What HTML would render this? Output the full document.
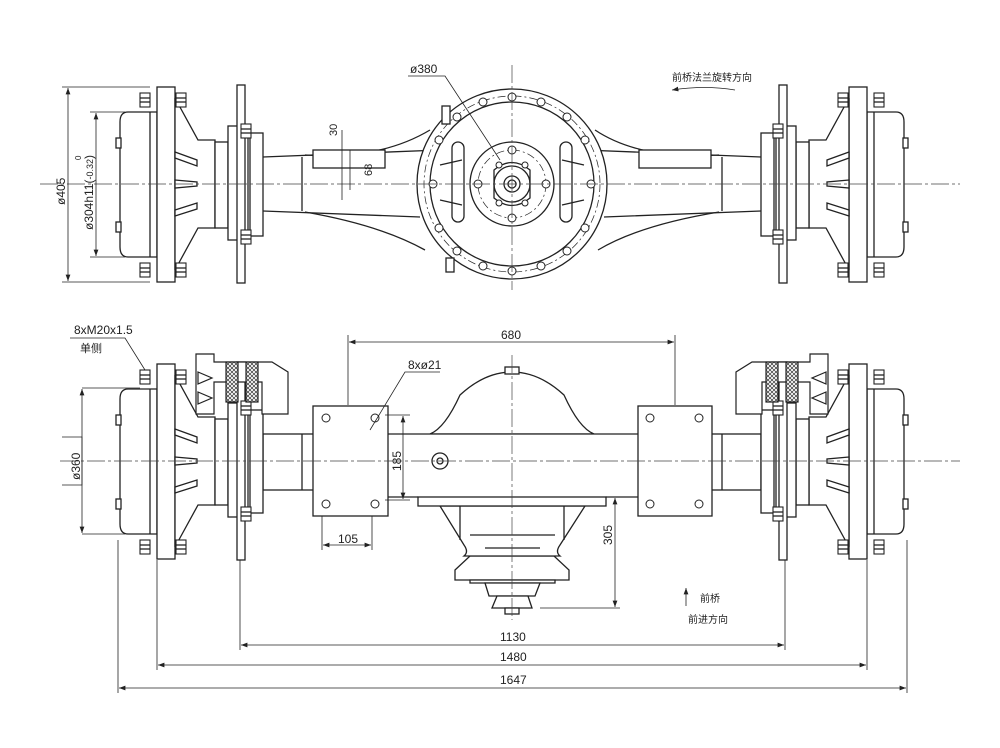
<!DOCTYPE html>
<html><head><meta charset="utf-8"><style>
html,body{margin:0;padding:0;background:#fff}
svg{display:block}
text{font-family:"Liberation Sans","Noto Sans CJK SC",sans-serif;fill:#222}
</style></head><body>
<svg width="1000" height="748" viewBox="0 0 1000 748" xmlns="http://www.w3.org/2000/svg">
<defs>
<pattern id="hatch" width="4" height="4" patternUnits="userSpaceOnUse"><rect width="4" height="4" fill="#fff"/><path d="M0 0L4 4M4 0L0 4" stroke="#333" stroke-width="0.7"/></pattern>
<marker id="ar" markerWidth="8" markerHeight="6" refX="8" refY="3" orient="auto-start-reverse"><path d="M0 0L8 3L0 6z" fill="#222"/></marker>
<g id="bolt"><rect x="-5" y="-7" width="10" height="14" fill="#fff" stroke="#222" stroke-width="1.1"/><line x1="-5" y1="-2" x2="5" y2="-2" stroke="#222"/><line x1="-5" y1="2" x2="5" y2="2" stroke="#222"/></g>
<g id="wheel" fill="#fff" stroke="#222" stroke-width="1.3">
 <path d="M157 112 L128 112 Q120 112 120 122 L120 247 Q120 257 128 257 L157 257 Z"/>
 <line x1="150" y1="112" x2="150" y2="257"/>
 <rect x="116" y="138" width="5" height="10"/><rect x="116" y="222" width="5" height="10"/>
 <rect x="157" y="87" width="18" height="195"/>
 <path d="M175 98 L198 140 L215 140 L215 228 L198 228 L175 270 Z"/>
 <path d="M175 152 L197 160 L197 166 L175 158 Z M175 180 L197 182 L197 186 L175 188 Z M175 210 L197 203 L197 209 L175 216 Z"/>
 <rect x="215" y="142" width="13" height="86"/>
 <rect x="228" y="126" width="20" height="114"/>
 <rect x="237" y="85" width="8" height="198"/>
 <rect x="250" y="133" width="13" height="103"/>
 <use href="#bolt" x="145" y="100"/><use href="#bolt" x="181" y="100"/>
 <use href="#bolt" x="145" y="270"/><use href="#bolt" x="181" y="270"/>
 <use href="#bolt" x="246" y="131"/><use href="#bolt" x="246" y="237"/>
</g>
<g id="caliper" fill="#fff" stroke="#222" stroke-width="1.2">
 <path d="M196 354 L214 354 L214 362 L272 362 L288 372 L288 414 L262 414 L262 382 L214 382 L214 414 L196 414 Z"/>
 <rect x="226" y="362" width="12" height="40" fill="url(#hatch)"/>
 <rect x="246" y="362" width="12" height="40" fill="url(#hatch)"/>
 <path d="M198 372 L212 378 L198 384 Z M198 392 L212 398 L198 404 Z"/>
</g>
</defs>

<!-- ===== TOP VIEW ===== -->
<g stroke="#222" stroke-width="1.3" fill="none">
 <!-- tubes -->
 <path d="M263 157 L440 150 M263 211 L420 217" />
 <path d="M761 157 L584 150 M761 211 L604 217"/>
 <line x1="302" y1="157" x2="302" y2="211"/><line x1="722" y1="157" x2="722" y2="211"/>
 <!-- housing arms -->
 <path d="M305 155 Q380 160 430 130" />
 <path d="M305 212 Q380 225 425 250"/>
 <path d="M719 155 Q640 160 595 130"/>
 <path d="M719 212 Q640 225 598 250"/>
 <rect x="313" y="150" width="72" height="18" fill="#fff"/>
 <rect x="639" y="150" width="72" height="18" fill="#fff"/>
 <!-- center -->
 <circle cx="512" cy="184" r="95" fill="#fff"/>
 <circle cx="512" cy="184" r="82" fill="none"/>
 <circle cx="512" cy="184" r="88" stroke-dasharray="8 3 2 3" stroke-width="0.7"/>
 <circle cx="512" cy="184" r="42"/>
 <circle cx="512" cy="184" r="34" stroke-dasharray="8 3 2 3" stroke-width="0.7"/>
 <path d="M494 170 Q512 155 530 170 L530 198 Q512 213 494 198 Z"/>
 <circle cx="512" cy="184" r="18"/>
 <circle cx="512" cy="184" r="8"/><circle cx="512" cy="184" r="4"/>
 <rect x="452" y="142" width="12" height="80" rx="6"/>
 <rect x="560" y="142" width="12" height="80" rx="6"/>
 <path d="M440 165 L462 160 M440 200 L462 205 M584 165 L562 160 M584 200 L562 205"/>
 <rect x="442" y="106" width="8" height="18" fill="#fff"/>
 <rect x="446" y="258" width="8" height="14" fill="#fff"/>
</g>
<g fill="#fff" stroke="#222" stroke-width="1">
 <circle cx="512" cy="97" r="4"/><circle cx="541" cy="102" r="4"/><circle cx="567" cy="117" r="4"/><circle cx="585" cy="140" r="4"/><circle cx="591" cy="184" r="4"/><circle cx="585" cy="228" r="4"/><circle cx="567" cy="251" r="4"/><circle cx="541" cy="266" r="4"/><circle cx="512" cy="271" r="4"/><circle cx="483" cy="266" r="4"/><circle cx="457" cy="251" r="4"/><circle cx="439" cy="228" r="4"/><circle cx="433" cy="184" r="4"/><circle cx="439" cy="140" r="4"/><circle cx="457" cy="117" r="4"/><circle cx="483" cy="102" r="4"/>
 <circle cx="512" cy="150" r="4"/><circle cx="546" cy="184" r="4"/><circle cx="512" cy="218" r="4"/><circle cx="478" cy="184" r="4"/>
 <circle cx="499" cy="165" r="3"/><circle cx="525" cy="165" r="3"/><circle cx="499" cy="203" r="3"/><circle cx="525" cy="203" r="3"/>
</g>
<use href="#wheel"/>
<use href="#wheel" transform="translate(1024,0) scale(-1,1)"/>
<line x1="40" y1="184" x2="960" y2="184" stroke="#444" stroke-width="0.7" stroke-dasharray="18 3 3 3"/>
<line x1="512" y1="65" x2="512" y2="290" stroke="#444" stroke-width="0.7" stroke-dasharray="18 3 3 3"/>

<!-- top view dims -->
<g stroke="#222" stroke-width="0.8" fill="none">
 <line x1="62" y1="87" x2="150" y2="87"/><line x1="62" y1="282" x2="150" y2="282"/>
 <line x1="68" y1="88" x2="68" y2="281" marker-start="url(#ar)" marker-end="url(#ar)"/>
 <line x1="90" y1="112" x2="125" y2="112"/><line x1="90" y1="257" x2="125" y2="257"/>
 <line x1="96" y1="113" x2="96" y2="256" marker-start="url(#ar)" marker-end="url(#ar)"/>
 <path d="M408 76 L445 76 L500 160"/>
 <line x1="342" y1="130" x2="342" y2="200"/><line x1="350" y1="150" x2="350" y2="190"/>
 <path d="M672 90 Q705 85 735 90" marker-start="url(#ar)"/>
</g>
<text x="0" y="0" font-size="12" transform="translate(65,205) rotate(-90)">ø405</text>
<text x="0" y="0" font-size="12" transform="translate(93,230) rotate(-90)">ø304h11(<tspan font-size="9">-0.32</tspan>)</text>
<text x="0" y="0" font-size="8" transform="translate(81,160) rotate(-90)">0</text>
<text x="410" y="73" font-size="12">ø380</text>
<text x="0" y="0" font-size="11" transform="translate(337,136) rotate(-90)">30</text>
<text x="0" y="0" font-size="11" transform="translate(372,176) rotate(-90)">68</text>
<text x="672" y="81" font-size="10">前桥法兰旋转方向</text>

<!-- ===== BOTTOM VIEW ===== -->
<g stroke="#222" stroke-width="1.3" fill="#fff">
 <rect x="263" y="434" width="52" height="56"/>
 <rect x="709" y="434" width="52" height="56"/>
 <line x1="302" y1="434" x2="302" y2="490"/><line x1="722" y1="434" x2="722" y2="490"/>
 <path d="M455 570 L470 556 L554 556 L569 570 L569 580 L455 580 Z"/>
 <path d="M470 580 L555 580 L555 583 L470 583 Z"/>
 <path d="M485 583 L540 583 L535 596 L489 596 Z"/>
 <path d="M497 596 L528 596 L532 608 L492 608 Z"/>
 <rect x="505" y="608" width="14" height="6"/>
 <path d="M440 506 L585 506 L560 545 Q555 552 560 556 L464 556 Q469 552 464 545 Z"/>
 <line x1="460" y1="506" x2="460" y2="540"/><line x1="564" y1="506" x2="564" y2="540"/>
 <line x1="470" y1="535" x2="555" y2="535"/><line x1="485" y1="548" x2="540" y2="548"/>
 <path d="M430 434 Q445 428 460 395 Q485 372 512 372 Q539 372 564 395 Q579 428 594 434 Z"/>
 <rect x="505" y="367" width="14" height="7"/>
 <path d="M315 434 L709 434 L709 497 L606 497 L600 500 L424 500 L418 497 L315 497 Z"/>
 <rect x="418" y="497" width="188" height="9"/>
 <rect x="313" y="406" width="75" height="110"/>
 <rect x="638" y="406" width="74" height="110"/>
 <circle cx="440" cy="461" r="8"/><circle cx="440" cy="461" r="3"/>
</g>
<g fill="#fff" stroke="#222" stroke-width="1">
 <circle cx="326" cy="418" r="4"/><circle cx="375" cy="418" r="4"/><circle cx="326" cy="504" r="4"/><circle cx="375" cy="504" r="4"/>
 <circle cx="650" cy="418" r="4"/><circle cx="699" cy="418" r="4"/><circle cx="650" cy="504" r="4"/><circle cx="699" cy="504" r="4"/>
</g>
<g transform="translate(0,277)"><use href="#wheel"/><use href="#wheel" transform="translate(1024,0) scale(-1,1)"/></g>
<use href="#caliper"/>
<use href="#caliper" transform="translate(1024,0) scale(-1,1)"/>
<line x1="60" y1="461" x2="960" y2="461" stroke="#444" stroke-width="0.7" stroke-dasharray="18 3 3 3"/>
<line x1="512" y1="355" x2="512" y2="620" stroke="#444" stroke-width="0.7" stroke-dasharray="18 3 3 3"/>

<!-- bottom dims -->
<g stroke="#222" stroke-width="0.8" fill="none">
 <line x1="348" y1="335" x2="348" y2="405"/><line x1="675" y1="335" x2="675" y2="405"/>
 <line x1="349" y1="342" x2="674" y2="342" marker-start="url(#ar)" marker-end="url(#ar)"/>
 <line x1="322" y1="516" x2="322" y2="550"/><line x1="372" y1="516" x2="372" y2="550"/>
 <line x1="323" y1="545" x2="371" y2="545" marker-start="url(#ar)" marker-end="url(#ar)"/>
 <line x1="385" y1="415" x2="410" y2="415"/><line x1="385" y1="500" x2="410" y2="500"/>
 <line x1="403" y1="416" x2="403" y2="499" marker-start="url(#ar)" marker-end="url(#ar)"/>
 <line x1="560" y1="497" x2="620" y2="497"/><line x1="540" y1="608" x2="620" y2="608"/>
 <line x1="615" y1="498" x2="615" y2="607" marker-start="url(#ar)" marker-end="url(#ar)"/>
 <path d="M440 372 L405 372 L370 430"/>
 <path d="M62 437 L82 437 L82 485 L62 485"/>
 <line x1="82" y1="388" x2="140" y2="388"/><line x1="82" y1="534" x2="125" y2="534"/>
 <line x1="82" y1="389" x2="82" y2="533" marker-start="url(#ar)" marker-end="url(#ar)"/>
 <path d="M70 338 L125 338 L145 370"/>
 <line x1="240" y1="560" x2="240" y2="650"/><line x1="785" y1="560" x2="785" y2="650"/>
 <line x1="241" y1="645" x2="784" y2="645" marker-start="url(#ar)" marker-end="url(#ar)"/>
 <line x1="157" y1="560" x2="157" y2="670"/><line x1="867" y1="560" x2="867" y2="670"/>
 <line x1="158" y1="665" x2="866" y2="665" marker-start="url(#ar)" marker-end="url(#ar)"/>
 <line x1="118" y1="540" x2="118" y2="693"/><line x1="907" y1="540" x2="907" y2="693"/>
 <line x1="119" y1="688" x2="906" y2="688" marker-start="url(#ar)" marker-end="url(#ar)"/>
 <line x1="686" y1="606" x2="686" y2="588" marker-end="url(#ar)"/>
</g>
<text x="501" y="339" font-size="12">680</text>
<text x="408" y="369" font-size="12">8xø21</text>
<text x="338" y="543" font-size="12">105</text>
<text x="0" y="0" font-size="12" transform="translate(401,471) rotate(-90)">185</text>
<text x="0" y="0" font-size="12" transform="translate(612,545) rotate(-90)">305</text>
<text x="0" y="0" font-size="12" transform="translate(80,480) rotate(-90)">ø360</text>
<text x="74" y="334" font-size="12">8xM20x1.5</text>
<text x="80" y="352" font-size="11">单侧</text>
<text x="500" y="641" font-size="12">1130</text>
<text x="500" y="661" font-size="12">1480</text>
<text x="500" y="684" font-size="12">1647</text>
<text x="700" y="602" font-size="10">前桥</text>
<text x="688" y="623" font-size="10">前进方向</text>
</svg>
</body></html>
